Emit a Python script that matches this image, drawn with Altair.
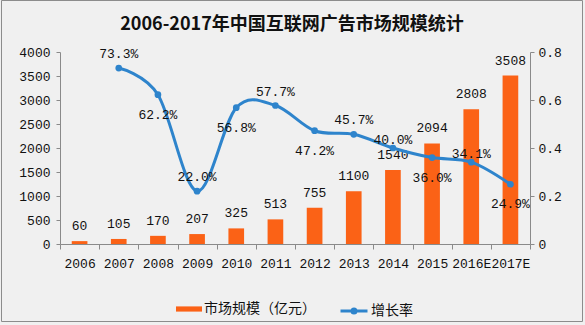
import altair as alt
import pandas as pd

years = ["2006", "2007", "2008", "2009", "2010", "2011", "2012", "2013",
         "2014", "2015", "2016E", "2017E"]
market = [60, 105, 170, 207, 325, 513, 755, 1100, 1540, 2094, 2808, 3508]
growth = [None, 0.733, 0.622, 0.220, 0.568, 0.577, 0.472, 0.457, 0.400,
          0.360, 0.341, 0.249]
label_side = [None, "above", "below", "above", "below", "above", "below",
              "above", "near", "below", "near", "below"]
left_ticks = [0, 500, 1000, 1500, 2000, 2500, 3000, 3500, 4000]
right_ticks = [0, 0.2, 0.4, 0.6, 0.8]

BAR_NAME = "市场规模（亿元）"
LINE_NAME = "增长率"
ORANGE = "#fb6216"
BLUE = "#2e84cc"
MONO = "Liberation Mono"
CJK = "Noto Sans CJK SC"
AXIS_GRAY = "#8a8a8a"

df = pd.DataFrame({
    "year": years,
    "market": market,
    "growth": growth,
    "side": label_side,
    "bar_series": [BAR_NAME] * len(years),
    "line_series": [LINE_NAME] * len(years),
})

x_axis = alt.Axis(labelAngle=0, labelFont=MONO, labelFontSize=13,
                  labelColor="#111", tickBand="extent", tickSize=5,
                  tickColor=AXIS_GRAY, domainColor=AXIS_GRAY,
                  labelPadding=8, labelOverlap=False, zindex=1)
x_enc = alt.X("year:N", sort=years, title=None,
              scale=alt.Scale(paddingInner=0, paddingOuter=0), axis=x_axis)
x_mid = alt.X("year:N", sort=years, bandPosition=0.5, title=None, axis=x_axis)

left_axis = alt.Axis(orient="left", values=left_ticks, tickCount=9,
                     grid=False, format="d",
                     labelFont=MONO, labelFontSize=13, labelColor="#111",
                     labelOverlap=False, labelFlush=False,
                     tickSize=4, tickColor=AXIS_GRAY, domainColor=AXIS_GRAY,
                     labelPadding=6, zindex=1)
right_axis = alt.Axis(orient="right", values=right_ticks, grid=False,
                      labelFont=MONO, labelFontSize=13, labelColor="#111",
                      labelOverlap=False, labelFlush=False,
                      labelExpr="datum.value == 0 ? '0' : format(datum.value, '.1f')",
                      tickSize=4, tickColor=AXIS_GRAY, domainColor=AXIS_GRAY,
                      labelPadding=4, zindex=1)
y_left = alt.Y("market:Q", title=None, scale=alt.Scale(domain=[0, 4000]),
               axis=left_axis)
y_right = alt.Y("growth:Q", title=None, scale=alt.Scale(domain=[0, 0.8]),
                axis=right_axis)

base = alt.Chart(df)

bars = base.mark_bar(width=alt.RelativeBandSize(0.4)).encode(
    x=x_enc,
    y=y_left,
    color=alt.Color(
        "bar_series:N",
        scale=alt.Scale(domain=[BAR_NAME], range=[ORANGE]),
        legend=alt.Legend(
            orient="none", legendX=116, legendY=244, title=None,
            symbolType="M-1,-0.2H1V0.2H-1Z", symbolSize=676,
            symbolStrokeWidth=0, labelFont=CJK, labelFontSize=14,
            labelColor="#111", labelOffset=2, padding=0, zindex=1,
        ),
    ),
)
bar_labels = base.mark_text(font=MONO, fontSize=13, color="#111",
                            baseline="alphabetic", dy=-11).encode(
    x=x_mid, y=y_left, text=alt.Text("market:Q", format="d"))

left_layer = alt.layer(bars, bar_labels)

line = base.mark_line(interpolate="cardinal", tension=0, strokeWidth=3).encode(
    x=x_mid,
    y=y_right,
    stroke=alt.Stroke(
        "line_series:N",
        scale=alt.Scale(domain=[LINE_NAME], range=[BLUE]),
        legend=alt.Legend(
            orient="none", legendX=279, legendY=244, title=None,
            symbolType="M-1,0H1M-0.15,0A0.15,0.15 0 1 1 0.15,0A0.15,0.15 0 1 1 -0.15,0",
            symbolSize=729, symbolStrokeWidth=3,
            labelFont=CJK, labelFontSize=14, labelColor="#111",
            labelOffset=2, padding=0, zindex=1,
        ),
    ),
)
points = base.mark_point(filled=True, size=45, color=BLUE, opacity=1).encode(
    x=x_mid, y=y_right)


def pct_labels(side, dy):
    return base.transform_filter(alt.datum.side == side).mark_text(
        font=MONO, fontSize=13, color="#111", baseline="alphabetic", dy=dy
    ).encode(x=x_mid, y=y_right,
             text=alt.Text("growth:Q", format=".1%"))


right_layer = alt.layer(line, points, pct_labels("above", -10),
                        pct_labels("below", 24), pct_labels("near", -4))

frame = alt.Chart(pd.DataFrame({"f": [0]})).mark_rect(
    fillOpacity=0, stroke="#8c8c8c", strokeWidth=1
).encode(x=alt.value(-58.5), x2=alt.value(522.5),
         y=alt.value(-51.5), y2=alt.value(269.5))

chart = alt.layer(frame, left_layer, right_layer).resolve_scale(
    y="independent", color="independent", stroke="independent"
).properties(
    width=470, height=192,
    autosize="none",
    padding={"left": 60, "top": 52, "right": 55, "bottom": 81},
    background="#f0f0f0",
    title=alt.TitleParams(
        "2006-2017年中国互联网广告市场规模统计", font=CJK, fontSize=18,
        fontWeight="bold", color="#111", anchor="middle", offset=-34,
        dx=-3,
    ),
).configure_view(strokeWidth=0)

chart.save("out.html", embed_options={"renderer": "svg", "actions": False})
